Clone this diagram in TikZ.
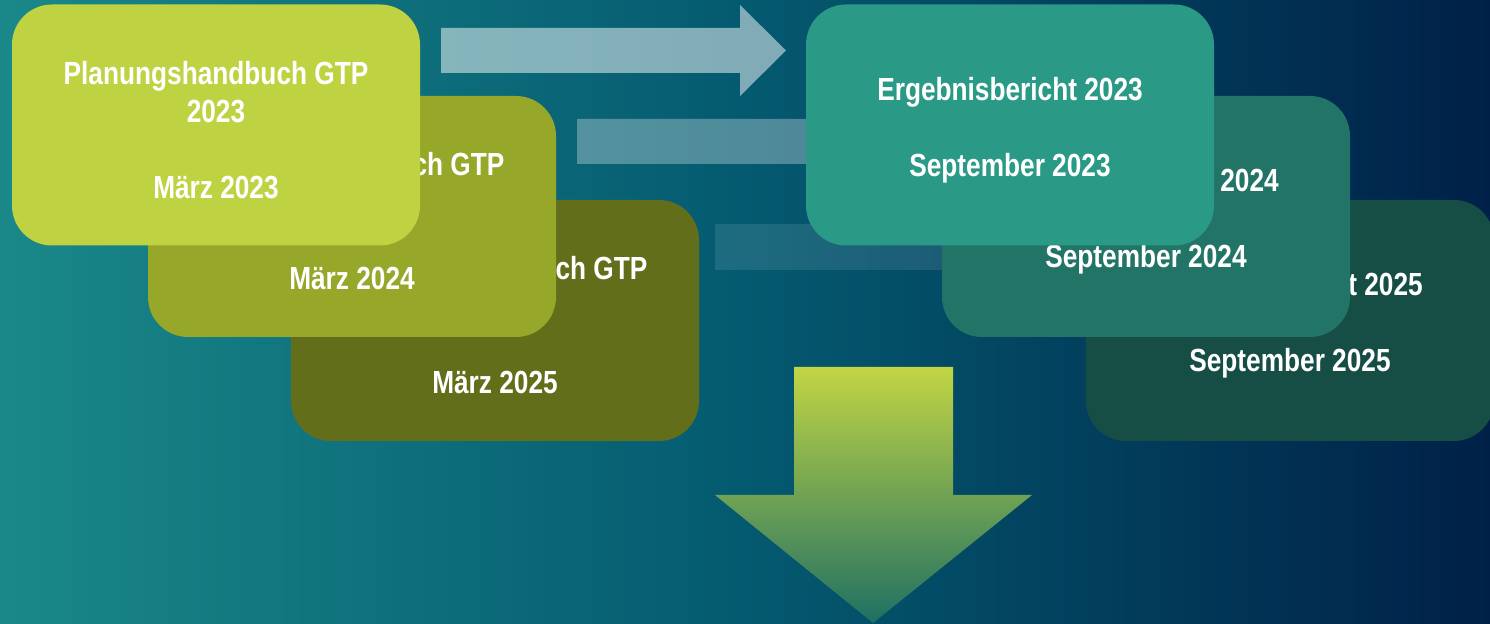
\documentclass[tikz,border=0pt]{standalone}
\usepackage{fontspec}
\setmainfont{Liberation Sans}[FakeStretch=0.82]
\definecolor{bgL}{RGB}{26,136,136}
\definecolor{bgM}{RGB}{4,90,112}
\definecolor{bgR}{RGB}{0,32,72}
\definecolor{gA}{RGB}{191,211,66}
\definecolor{gB}{RGB}{150,167,42}
\definecolor{gC}{RGB}{99,110,27}
\definecolor{tA}{RGB}{42,154,134}
\definecolor{tB}{RGB}{34,117,102}
\definecolor{tC}{RGB}{22,78,70}
\definecolor{dTop}{RGB}{194,213,68}
\definecolor{dBot}{RGB}{31,112,99}
\newcommand\cardlift{\rule{0pt}{16.5pt}}
\begin{document}
\begin{tikzpicture}[x=0.5pt,y=-0.5pt,
  card/.style={rectangle, rounded corners=20pt, minimum width=204pt, minimum height=120.5pt,
    inner sep=0pt, align=center, text=white,
    font=\bfseries\fontsize{16}{19}\selectfont}]
\useasboundingbox (0,0) rectangle (1490,624);
\shade[left color=bgL, right color=bgR, middle color=bgM] (0,0) rectangle (1490,624);
% horizontal block arrows
\fill[white, opacity=0.5] (441,28) -- (740,28) -- (740,5) -- (786,50.5) -- (740,96) -- (740,73) -- (441,73) -- cycle;
\fill[white, opacity=0.3] (577,119) -- (876,119) -- (876,96) -- (922,141.5) -- (876,187) -- (876,164) -- (577,164) -- cycle;
\fill[white, opacity=0.1] (715,224) -- (1014,224) -- (1014,201) -- (1060,246.5) -- (1014,292) -- (1014,270) -- (715,270) -- cycle;
% left stack
\node[card, fill=gC] (p25) at (495,320.5) {\cardlift Planungshandbuch GTP\\2025\\[19pt]März 2025};
\node[card, fill=gB] (p24) at (352,216.5) {\cardlift Planungshandbuch GTP\\2024\\[19pt]März 2024};
\node[card, fill=gA] (p23) at (216,125) {\cardlift Planungshandbuch GTP\\2023\\[19pt]März 2023};
% right stack
\node[card, fill=tC] (e25) at (1290,320.5) {\cardlift Ergebnisbericht 2025\\[19pt]September 2025};
\node[card, fill=tB] (e24) at (1146,216.5) {\cardlift Ergebnisbericht 2024\\[19pt]September 2024};
\node[card, fill=tA] (e23) at (1010,125) {\cardlift Ergebnisbericht 2023\\[19pt]September 2023};
% down arrow
\shade[top color=dTop, bottom color=dBot] (794,367) -- (953,367) -- (953,495) -- (1032,495) -- (873,623) -- (715,495) -- (794,495) -- cycle;
\end{tikzpicture}
\end{document}
